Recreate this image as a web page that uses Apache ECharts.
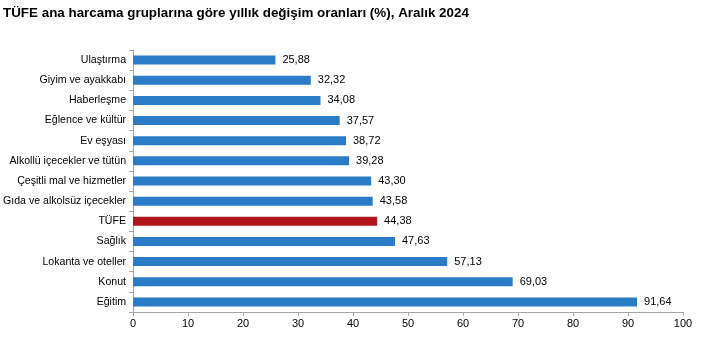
<!DOCTYPE html>
<html><head><meta charset="utf-8">
<script src="https://cdn.jsdelivr.net/npm/echarts@6/dist/echarts.min.js"></script>
<style>html,body{margin:0;padding:0;background:#fff}#c{width:720px;height:347px}</style>
</head><body><div id="c"></div>
<script>
const titleText = 'TÜFE ana harcama gruplarına göre yıllık değişim oranları (%), Aralık 2024';
const categories = ['Ulaştırma','Giyim ve ayakkabı','Haberleşme','Eğlence ve kültür','Ev eşyası','Alkollü içecekler ve tütün','Çeşitli mal ve hizmetler','Gıda ve alkolsüz içecekler','TÜFE','Sağlık','Lokanta ve oteller','Konut','Eğitim'];
const values = [25.88,32.32,34.08,37.57,38.72,39.28,43.30,43.58,44.38,47.63,57.13,69.03,91.64];
const highlight = 'TÜFE';
const xTicks = {min:0,max:100,interval:10};

const chart = echarts.init(document.getElementById('c'), null, {renderer:'canvas'});
chart.setOption({
  animation:false,
  textStyle:{fontFamily:'Liberation Sans, Arial, sans-serif'},
  title:{text:titleText,left:-2,top:2,textStyle:{fontSize:13.4,fontWeight:'bold',color:'#000',fontFamily:'Liberation Sans, Arial, sans-serif'}},
  grid:{left:133,right:37,top:50,bottom:35,containLabel:false},
  xAxis:{type:'value',min:xTicks.min,max:xTicks.max,interval:xTicks.interval,
    splitLine:{show:false},
    axisLine:{show:true,lineStyle:{color:'#a6a6a6'}},
    axisTick:{show:true,length:4,lineStyle:{color:'#a6a6a6'}},
    axisLabel:{color:'#000',fontSize:11,margin:6}},
  yAxis:{type:'category',data:categories,inverse:true,
    axisLine:{show:true,lineStyle:{color:'#a6a6a6'}},
    axisTick:{show:true,length:4,lineStyle:{color:'#a6a6a6'}},
    axisLabel:{color:'#000',fontSize:10.6,margin:7}},
  series:[{type:'bar',barWidth:9,
    data:values.map((v,i)=>({value:v,itemStyle:{color:categories[i]===highlight?'#b0151c':'#2b7cc6'}})),
    label:{show:true,position:'right',distance:7,color:'#000',fontSize:11,
      formatter:p=>p.value.toFixed(2).replace('.',',')}}]
});
</script></body></html>
